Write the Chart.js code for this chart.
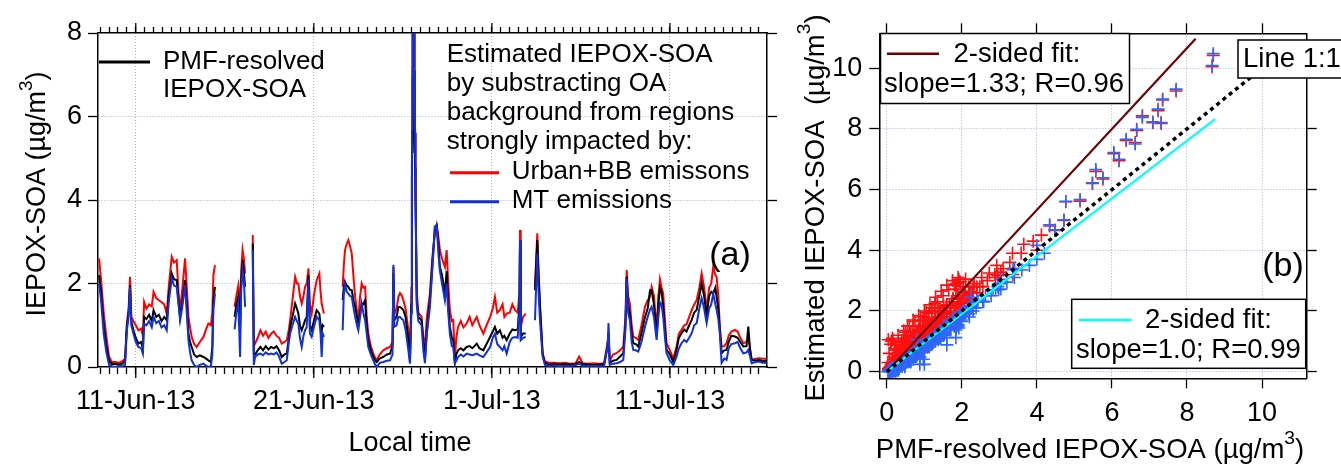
<!DOCTYPE html>
<html>
<head>
<meta charset="utf-8">
<script src="https://cdn.jsdelivr.net/npm/chart.js@4.4.1/dist/chart.umd.min.js"></script>
<style>
  html, body { margin:0; padding:0; background:#fff; overflow:hidden; }
  #c1 { position:absolute; left:0; top:0; }
  #c2 { position:absolute; left:790px; top:0; }
</style>
</head>
<body>
<canvas id="c1" width="790" height="467"></canvas>
<canvas id="c2" width="551" height="467"></canvas>
<script>
const FONT = "'Liberation Sans', Arial, sans-serif";
const GRID = 'rgb(170,170,250)';

// ---- time series (days since 1-Jun-2013 00:00; null = gap) ----
const days = [
  7.94, 8.05, 8.2, 8.35, 8.5, 8.65, 8.85, 9.05, 9.25, 9.4, 9.5, 9.6, 9.68, 9.75, 9.87, 10.0, 10.15, 10.3, 10.4, 10.47, 10.6, 10.75, 10.9, 11.0, 11.15, 11.3, 11.45, 11.6, 11.74, 11.85, 12.02, 12.15, 12.3, 12.4, 12.49, 12.6, 12.77, 12.88, 12.96, 13.05, 13.14, 13.28, 13.42, 13.6, 13.8, 13.95, 14.08, 14.22, 14.3, 14.36, 14.45,
  15.0,
  15.55, 15.65, 15.76, 15.86, 15.92, 16.0, 16.07, 16.14,
  16.35,
  16.57, 16.63, 16.7, 16.85, 17.0, 17.15, 17.3, 17.45, 17.6, 17.75, 17.9, 18.05, 18.2, 18.35, 18.48, 18.6, 18.67, 18.8, 18.95, 19.05, 19.13, 19.22, 19.32, 19.42, 19.51, 19.6, 19.7, 19.78, 19.88, 20.0, 20.16, 20.31, 20.38, 20.44, 20.5, 20.57,
  21.1,
  21.62, 21.68, 21.75, 21.85, 21.94, 22.03, 22.13, 22.22, 22.32, 22.42, 22.5, 22.6, 22.69, 22.78, 22.88, 22.97, 23.06, 23.2, 23.34, 23.45, 23.53, 23.7, 23.9, 24.1, 24.28, 24.42, 24.47, 24.52, 24.65, 24.75, 24.84, 24.95, 25.03, 25.15, 25.31, 25.4, 25.48,
  25.51, 25.52, 25.53, 25.54, 25.55, 25.56, 25.57, 25.58, 25.59, 25.6, 25.61, 25.62, 25.63, 25.64, 25.65, 25.66, 25.67, 25.68, 25.69, 25.7, 25.71, 25.73,
  25.78, 25.87, 26.05, 26.15, 26.24, 26.35, 26.52, 26.65, 26.8, 26.9, 27.0, 27.08, 27.2, 27.36, 27.46, 27.55, 27.64, 27.75, 27.83, 27.92, 28.0, 28.1, 28.25, 28.4, 28.58, 28.75, 28.9, 29.02, 29.15, 29.3, 29.52, 29.7, 29.9, 30.05, 30.17, 30.3, 30.45, 30.6, 30.7, 30.83, 31.0, 31.15, 31.3, 31.45, 31.55, 31.58, 31.62, 31.75, 31.9,
  32.15,
  32.42, 32.55, 32.62, 32.7, 32.85, 32.98, 33.2, 33.5, 33.8, 34.1, 34.4, 34.7, 34.9, 35.1, 35.4, 35.7, 36.0, 36.3, 36.5, 36.55, 36.62, 36.8, 37.0, 37.2, 37.38, 37.5, 37.57, 37.65, 37.75, 37.85, 37.94, 38.08, 38.22, 38.4, 38.6, 38.75, 38.88, 38.97, 39.1, 39.25, 39.35, 39.44, 39.53, 39.62, 39.72, 39.81, 40.0, 40.19, 40.37, 40.5, 40.65, 40.8, 40.93, 41.08, 41.22, 41.36, 41.5, 41.65, 41.78, 41.92, 42.06, 42.2, 42.32, 42.43, 42.55, 42.62, 42.72, 42.8, 42.9, 43.05, 43.18, 43.3, 43.45, 43.65, 43.8, 43.95, 44.12, 44.3, 44.4, 44.5, 44.59, 44.8, 45.0, 45.2, 45.42
];
// PMF-resolved IEPOX-SOA
const pmf = [
  2.2, 1.8, 1.0, 0.5, 0.15, 0.07, 0.08, 0.06, 0.08, 0.15, 0.96, 1.3, 1.96, 1.1, 0.88, 0.7, 0.56, 0.6, 0.45, 1.2, 1.15, 1.25, 1.1, 1.36, 1.2, 1.25, 1.1, 1.2, 1.12, 1.7, 2.24, 2.1, 2.08, 1.6, 1.2, 1.5, 2.08, 1.4, 0.8, 0.6, 0.48, 0.3, 0.24, 0.28, 0.24, 0.2, 0.16, 0.12, 0.5, 1.6, 1.92,
  null,
  1.2, 1.5, 1.7, 1.0, 2.0, 2.56, 2.3, 1.92,
  null,
  2.96, 0.3, 0.3, 0.4, 0.48, 0.4, 0.5, 0.42, 0.48, 0.45, 0.5, 0.4, 0.24, 0.3, 0.32, 0.7, 0.96, 1.2, 1.52, 1.4, 1.28, 1.0, 0.88, 1.0, 1.12, 1.2, 2.2, 1.0, 0.88, 1.1, 1.36, 1.28, 1.0, 0.88, 1.0, 0.96,
  null,
  1.6, 1.9, 2.04, 1.95, 1.92, 1.85, 1.84, 1.6, 1.44, 1.2, 1.04, 1.3, 1.52, 1.5, 1.6, 1.0, 0.64, 0.4, 0.24, 0.15, 0.12, 0.2, 0.24, 0.3, 0.32, 0.5, 2.24, 1.12, 1.2, 1.44, 1.44, 1.4, 1.36, 1.2, 0.64, 0.15, 1.5,
  4.34, 5.15, 5.57, 6.05, 6.38, 6.81, 7.23, 7.71, 8.67, 8.7, 7.35, 7.31, 7.09, 6.66, 6.62, 6.19, 5.76, 5.48, 4.77, 4.72, 4.48, 4.0,
  1.6, 1.2, 1.12, 0.6, 0.2, 0.9, 1.6, 2.4, 3.36, 3.4, 2.9, 2.4, 2.2, 1.76, 2.3, 1.5, 0.96, 0.7, 0.64, 0.1, 0.3, 0.4, 0.45, 0.4, 0.48, 0.5, 0.45, 0.5, 0.56, 0.45, 0.4, 0.55, 0.72, 0.85, 0.96, 0.8, 0.88, 0.7, 0.75, 0.64, 0.8, 0.9, 0.88, 0.9, 1.5, 3.04, 0.72, 0.8, 0.8,
  null,
  1.84, 3.04, 2.2, 1.44, 0.3, 0.09, 0.06, 0.07, 0.06, 0.07, 0.06, 0.07, 0.12, 0.07, 0.06, 0.05, 0.06, 0.06, 0.5, 0.8, 0.1, 0.15, 0.17, 0.25, 0.33, 1.0, 2.16, 1.5, 1.28, 0.8, 0.57, 0.55, 0.49, 0.8, 1.2, 1.4, 1.84, 1.84, 1.5, 0.73, 1.5, 1.9, 1.8, 1.44, 0.9, 0.41, 0.3, 0.12, 0.41, 0.7, 0.81, 0.9, 0.85, 1.0, 1.13, 1.3, 1.37, 1.7, 2.0, 1.7, 1.2, 1.7, 1.8, 1.76, 1.9, 1.68, 1.36, 0.9, 0.33, 0.4, 0.41, 0.6, 0.75, 0.73, 0.7, 0.6, 0.49, 0.5, 0.97, 0.4, 0.17, 0.15, 0.17, 0.14, 0.15
];
// Estimated IEPOX-SOA, Urban+BB background
const urban = [
  2.6, 2.1, 1.3, 0.72, 0.25, 0.12, 0.12, 0.1, 0.14, 0.2, 1.04, 1.4, 2.16, 1.2, 1.1, 1.0, 0.88, 0.92, 0.75, 1.56, 1.4, 1.5, 1.45, 1.8, 1.65, 1.6, 1.55, 1.5, 1.28, 1.9, 2.64, 2.5, 2.56, 1.8, 1.36, 1.8, 2.6, 1.8, 1.2, 0.95, 0.72, 0.55, 0.48, 0.6, 0.72, 0.9, 1.04, 1.0, 1.3, 2.2, 2.44,
  null,
  1.44, 1.7, 1.95, 1.4, 2.3, 2.8, 2.6, 2.24,
  null,
  3.16, 0.5, 0.56, 0.7, 0.88, 0.75, 0.85, 0.7, 0.8, 0.85, 0.75, 0.7, 0.56, 0.6, 0.64, 0.9, 1.12, 1.6, 2.16, 2.0, 2.0, 1.7, 1.52, 1.7, 1.92, 2.0, 2.36, 1.5, 1.28, 1.7, 2.08, 2.24, 1.8, 1.52, 1.4, 1.28,
  null,
  1.92, 2.4, 2.8, 2.95, 3.04, 2.9, 2.72, 2.2, 1.68, 1.35, 1.12, 1.7, 2.0, 1.9, 1.92, 1.2, 0.8, 0.5, 0.32, 0.22, 0.16, 0.3, 0.4, 0.45, 0.48, 0.6, 2.4, 1.28, 1.4, 1.68, 1.77, 1.7, 1.6, 1.4, 0.88, 0.2, 1.9,
  4.8, 5.62, 6.6, 7.18, 7.62, 8.43, 8.6, 9.25, 10.05, 10.42, 8.95, 8.18, 8.2, 7.95, 7.55, 6.95, 6.35, 6.2, 5.6, 4.98, 4.65, 4.0,
  1.8, 1.3, 1.2, 0.7, 0.48, 1.2, 1.76, 2.6, 3.2, 3.4, 3.1, 2.8, 2.6, 2.4, 2.8, 2.0, 1.36, 1.1, 1.12, 0.17, 0.7, 0.96, 1.1, 0.95, 1.04, 1.2, 1.0, 1.1, 1.2, 1.0, 0.8, 1.0, 1.2, 1.4, 1.68, 1.3, 1.36, 1.5, 1.2, 1.28, 1.3, 1.5, 1.36, 1.3, 1.8, 3.28, 0.96, 1.2, 1.28,
  null,
  1.92, 3.2, 2.3, 1.52, 0.33, 0.13, 0.1, 0.1, 0.09, 0.1, 0.08, 0.09, 0.25, 0.09, 0.08, 0.09, 0.08, 0.09, 0.6, 0.73, 0.15, 0.3, 0.33, 0.4, 0.49, 1.2, 2.32, 1.7, 1.52, 1.0, 0.73, 0.7, 0.65, 1.0, 1.45, 1.6, 1.68, 1.92, 1.7, 0.89, 1.7, 2.1, 1.9, 1.76, 1.1, 0.57, 0.4, 0.2, 0.49, 0.8, 0.89, 1.0, 1.02, 1.2, 1.36, 1.5, 1.6, 1.9, 2.24, 1.9, 1.37, 1.9, 2.0, 2.4, 2.2, 2.16, 1.68, 0.97, 0.49, 0.5, 0.57, 0.75, 0.85, 0.89, 0.85, 0.7, 0.57, 0.6, 0.65, 0.45, 0.17, 0.2, 0.21, 0.2, 0.2
];
// Estimated IEPOX-SOA, MT background
const mt = [
  2.0, 1.6, 0.8, 0.35, 0.05, 0.02, 0.0, 0.03, 0.02, 0.05, 0.88, 1.2, 1.92, 1.0, 0.8, 0.6, 0.48, 0.45, 0.32, 1.04, 1.0, 1.1, 0.95, 1.2, 1.05, 1.1, 0.95, 1.0, 0.88, 1.55, 2.12, 1.95, 1.92, 1.5, 1.12, 1.4, 1.96, 1.2, 0.64, 0.35, 0.16, 0.05, 0.0, 0.05, 0.08, 0.03, 0.0, 0.02, 0.3, 1.4, 1.76,
  null,
  0.9, 1.3, 1.55, 0.24, 1.84, 2.32, 2.1, 1.44,
  null,
  2.8, 0.05, 0.24, 0.3, 0.32, 0.28, 0.35, 0.3, 0.32, 0.3, 0.35, 0.25, 0.08, 0.12, 0.16, 0.6, 0.8, 1.0, 1.2, 1.1, 1.04, 0.7, 0.48, 0.75, 0.88, 0.95, 2.1, 0.8, 0.72, 0.95, 1.2, 1.12, 0.8, 0.24, 0.8, 0.72,
  null,
  0.88, 1.7, 2.0, 1.8, 1.76, 1.7, 1.68, 1.45, 1.2, 1.0, 0.88, 1.2, 1.52, 1.3, 1.12, 0.8, 0.48, 0.3, 0.16, 0.05, 0.0, 0.1, 0.12, 0.15, 0.16, 0.3, 2.45, 0.96, 1.0, 1.2, 1.2, 1.15, 1.12, 0.9, 0.4, 0.08, 1.3,
  4.84, 5.67, 6.66, 7.22, 7.66, 8.38, 8.65, 9.31, 10.09, 10.48, 8.98, 8.21, 8.23, 7.99, 7.5, 7.0, 6.39, 6.22, 5.61, 5.0, 4.67, 4.16,
  1.5, 1.1, 1.0, 0.4, 0.09, 0.8, 1.44, 2.3, 3.36, 3.4, 2.7, 2.3, 2.0, 1.6, 2.0, 1.3, 0.8, 0.5, 0.48, 0.09, 0.15, 0.24, 0.3, 0.25, 0.32, 0.3, 0.28, 0.3, 0.32, 0.28, 0.24, 0.35, 0.48, 0.7, 0.8, 0.55, 0.48, 0.4, 0.5, 0.32, 0.6, 0.7, 0.72, 0.7, 1.4, 3.04, 0.64, 0.7, 0.72,
  null,
  1.12, 2.72, 1.8, 1.12, 0.25, 0.05, 0.03, 0.04, 0.02, 0.03, 0.03, 0.04, 0.08, 0.03, 0.03, 0.02, 0.03, 0.03, 0.5, 1.05, 0.05, 0.08, 0.09, 0.12, 0.17, 0.9, 2.12, 1.3, 1.12, 0.6, 0.41, 0.4, 0.37, 0.6, 0.97, 1.2, 1.37, 1.44, 1.2, 0.65, 1.2, 1.55, 1.5, 1.2, 0.7, 0.33, 0.15, 0.05, 0.25, 0.45, 0.57, 0.65, 0.6, 0.7, 0.81, 1.0, 1.05, 1.4, 1.65, 1.4, 1.05, 1.4, 1.5, 1.76, 1.5, 1.37, 1.13, 0.81, 0.1, 0.2, 0.17, 0.45, 0.55, 0.57, 0.6, 0.45, 0.33, 0.35, 0.41, 0.25, 0.09, 0.12, 0.13, 0.1, 0.1
];

// ---- extra scatter points (b) ----
const cloudRedX = [0.03,0.06,0.1,0.04, 0.18,0.22,0.15, 0.33,0.38,0.3, 0.48,0.52,0.45,0.55, 0.62,0.68,0.6,0.7, 0.78,0.83,0.75,0.85, 0.93,0.98,0.9,1.0, 1.08,1.13,1.05,1.15, 1.23,1.28,1.2,1.3, 1.38,1.43,1.35,1.45, 1.53,1.58,1.5,1.6, 1.68,1.73,1.65,1.75, 1.83,1.88,1.8,1.9, 1.98,2.03,1.95, 2.13,2.18,2.1, 2.28,2.33, 2.48,2.53, 2.68,2.73, 2.88,2.93, 3.1, 3.28,3.35, 3.58,3.65, 3.9, 4.12];
const cloudRedY = [0.3,0.6,0.9,1.05, 0.4,0.75,1.1, 0.5,0.85,1.2, 0.65,1.0,1.35,1.5, 0.8,1.15,1.5,1.7, 0.95,1.3,1.65,1.85, 1.1,1.45,1.8,2.0, 1.25,1.6,1.95,2.2, 1.4,1.75,2.1,2.45, 1.6,1.95,2.3,2.65, 1.75,2.1,2.5,2.85, 1.95,2.3,2.7,3.0, 2.1,2.5,2.85,3.1, 2.3,2.65,2.95, 2.45,2.8,3.05, 2.6,2.9, 2.8,3.1, 3.0,3.25, 3.2,3.5, 3.4, 3.6,3.9, 3.9,4.2, 4.3, 4.5];
const cloudBlueX = [0.03,0.08, 0.18,0.23, 0.33,0.38, 0.48,0.53, 0.63,0.68, 0.78,0.83, 0.93,0.98, 1.08,1.13, 1.23,1.28, 1.38,1.43, 1.53,1.58, 1.68,1.73, 1.83,1.88, 1.98,2.03, 2.18,2.23, 2.38,2.43, 2.58,2.63, 2.78,2.83, 2.98,3.03, 3.2, 3.4, 3.6, 3.8, 4.0, 4.2];
const cloudBlueY = [0.0,0.05, 0.05,0.15, 0.1,0.3, 0.2,0.45, 0.35,0.6, 0.5,0.75, 0.65,0.9, 0.8,1.05, 0.95,1.2, 1.1,1.35, 1.25,1.5, 1.4,1.65, 1.55,1.8, 1.7,1.95, 1.9,2.15, 2.1,2.35, 2.3,2.5, 2.5,2.7, 2.7,2.9, 2.95, 3.1, 3.35, 3.5, 3.7, 3.9];

// ---- tick labels ----
const xTickValues = [10, 20, 30, 40];
const xTickLabels = ['11-Jun-13', '21-Jun-13', '1-Jul-13', '11-Jul-13'];

// ---- fit lines for scatter panel (x, y endpoints) ----
const urbanFitX = [0, 8.23], urbanFitY = [0, 10.97];
const mtFitX = [0, 8.75], mtFitY = [0, 8.32];
const oneToOneX = [0, 10.4], oneToOneY = [0, 10.4];

// ---- helpers ----
const pts = (xs, ys) => xs.map((x, i) => ({ x: x, y: ys[i] }));
const pairs = (xs, ys) => xs.map((x, i) => ({ x: x, y: ys[i] })).filter(p => p.x != null && p.y != null);
const isMult = (v, s) => Math.abs(v / s - Math.round(v / s)) < 1e-6;
const TRANSP = 'rgba(0,0,0,0)';

function txt(ctx, s, x, y, size, align) {
  ctx.font = size + 'px ' + FONT;
  ctx.textAlign = align || 'left';
  ctx.textBaseline = 'middle';
  ctx.fillStyle = '#000';
  ctx.fillText(s, x, y);
}
function seg(ctx, x1, y1, x2, y2, color, w) {
  ctx.beginPath(); ctx.setLineDash([]);
  ctx.strokeStyle = color; ctx.lineWidth = w;
  ctx.moveTo(x1, y1); ctx.lineTo(x2, y2); ctx.stroke();
}
function rich(ctx, parts, x, y, size) {
  const sup = size * 0.7;
  let w = 0;
  parts.forEach(p => { ctx.font = (p[1] ? sup : size) + 'px ' + FONT; w += ctx.measureText(p[0]).width; });
  let cx = x - w / 2;
  ctx.textAlign = 'left'; ctx.textBaseline = 'middle'; ctx.fillStyle = '#000';
  parts.forEach(p => {
    ctx.font = (p[1] ? sup : size) + 'px ' + FONT;
    ctx.fillText(p[0], cx, p[1] ? y - size * 0.42 : y);
    cx += ctx.measureText(p[0]).width;
  });
}
function box(ctx, x, y, w, h) {
  ctx.setLineDash([]);
  ctx.fillStyle = '#fff'; ctx.fillRect(x, y, w, h);
  ctx.strokeStyle = '#000'; ctx.lineWidth = 1.5; ctx.strokeRect(x, y, w, h);
}

// ================= LEFT PANEL =================
const leftDeco = {
  id: 'leftDeco',
  afterDraw(chart) {
    const { ctx, chartArea: a, scales } = chart;
    ctx.save();
    xTickValues.forEach(v => {
      const px = scales.x.getPixelForValue(v);
      seg(ctx, px, a.bottom, px, a.bottom + 11, '#000', 1.3);
      seg(ctx, px, a.top, px, a.top - 10, '#000', 1.3);
    });
    seg(ctx, 99, 62, 150, 62, '#000', 3);
    txt(ctx, 'PMF-resolved', 163, 62, 26);
    txt(ctx, 'IEPOX-SOA', 163, 90, 26);
    txt(ctx, 'Estimated IEPOX-SOA', 446.7, 55, 26);
    txt(ctx, 'by substracting OA', 446.7, 84, 26);
    txt(ctx, 'background from regions', 446.7, 113, 26);
    txt(ctx, 'strongly impacted by:', 446.7, 142, 26);
    seg(ctx, 450, 172.7, 499, 172.7, '#ff0000', 3);
    txt(ctx, 'Urban+BB emissons', 511.7, 172, 26);
    seg(ctx, 450, 201.7, 499, 201.7, '#1030d8', 3);
    txt(ctx, 'MT emissions', 511.7, 201, 26);
    txt(ctx, '(a)', 730, 256, 34, 'center');
    txt(ctx, 'Local time', 410, 444, 27, 'center');
    ctx.save();
    ctx.translate(38, 194); ctx.rotate(-Math.PI / 2);
    rich(ctx, [['IEPOX-SOA (\u00B5g/m', false], ['3', true], [')', false]], 0, 0, 27);
    ctx.restore();
    ctx.restore();
  }
};

const lineDs = (label, ys, color) => ({
  label: label, data: pts(days, ys), borderColor: color, borderWidth: 2,
  pointRadius: 0, tension: 0, spanGaps: false, fill: false
});

new Chart(document.getElementById('c1'), {
  type: 'line',
  data: { datasets: [
    lineDs('MT emissions', mt, '#1030d8'),
    lineDs('PMF-resolved IEPOX-SOA', pmf, '#000000'),
    lineDs('Urban+BB emissons', urban, '#ff0000')
  ]},
  options: {
    responsive: false, animation: false,
    layout: { padding: 0 },
    plugins: { legend: { display: false }, tooltip: { enabled: false } },
    scales: {
      x: {
        type: 'linear', position: 'bottom', min: 7.88, max: 45.45,
        afterFit: s => { s.height = 100; },
        ticks: {
          stepSize: 0.5, includeBounds: false, autoSkip: false, maxRotation: 0, minRotation: 0,
          maxTicksLimit: 1000, padding: 11, color: '#000', font: { family: FONT, size: 27 },
          callback: v => { const i = xTickValues.findIndex(t => Math.abs(t - v) < 1e-6); return i >= 0 ? xTickLabels[i] : ''; }
        },
        grid: {
          color: c => (c.tick && isMult(c.tick.value, 10)) ? GRID : TRANSP,
          lineWidth: 1, tickColor: '#000', tickLength: 7, tickWidth: 1.3
        },
        border: { display: true, color: '#000', width: 1.5, dash: [1, 2] }
      },
      xT: {
        type: 'linear', position: 'top', min: 7.88, max: 45.45,
        afterFit: s => { s.height = 33; },
        ticks: { display: false, stepSize: 0.5, includeBounds: false, autoSkip: false, maxTicksLimit: 1000 },
        grid: { drawOnChartArea: false, tickColor: '#000', tickLength: 6, tickWidth: 1.3 },
        border: { display: true, color: '#000', width: 1.5 }
      },
      y: {
        type: 'linear', position: 'left', min: 0, max: 8,
        afterFit: s => { s.width = 98; },
        ticks: { stepSize: 2, padding: 6, color: '#000', font: { family: FONT, size: 27 } },
        grid: {
          color: c => (c.tick && c.tick.value > 0 && c.tick.value < 8) ? GRID : TRANSP,
          lineWidth: 1, tickColor: '#000', tickLength: 10, tickWidth: 1.3
        },
        border: { display: true, color: '#000', width: 1.5, dash: [1, 2] }
      },
      yR: {
        type: 'linear', position: 'right', min: 0, max: 8,
        afterFit: s => { s.width = 23; },
        ticks: { display: false, stepSize: 2 },
        grid: { drawOnChartArea: false, tickColor: '#000', tickLength: 10, tickWidth: 1.3 },
        border: { display: true, color: '#000', width: 1.5 }
      }
    }
  },
  plugins: [leftDeco]
});

// ================= RIGHT PANEL =================
const rightDeco = {
  id: 'rightDeco',
  afterDraw(chart) {
    const { ctx } = chart;
    ctx.save();
    box(ctx, 90.5, 33.5, 249, 70);
    seg(ctx, 97, 53.7, 149, 53.7, '#700000', 2.5);
    txt(ctx, '2-sided fit:', 163.5, 54, 27.5);
    txt(ctx, 'slope=1.33; R=0.96', 94, 84, 27.5);
    box(ctx, 448, 40, 130, 38);
    txt(ctx, 'Line 1:1', 453, 59, 27.5);
    box(ctx, 281.7, 299.3, 234, 69);
    seg(ctx, 289, 320, 341.7, 320, '#00ffff', 2.5);
    txt(ctx, '2-sided fit:', 355, 320, 27.5);
    txt(ctx, 'slope=1.0; R=0.99', 286, 350, 27.5);
    txt(ctx, '(b)', 493, 267, 34, 'center');
    rich(ctx, [['PMF-resolved IEPOX-SOA (\u00B5g/m', false], ['3', true], [')', false]], 300, 450, 27.5);
    ctx.save();
    ctx.translate(26, 208); ctx.rotate(-Math.PI / 2);
    rich(ctx, [['Estimated IEPOX-SOA  (\u00B5g/m', false], ['3', true], [')', false]], 0, 0, 27.5);
    ctx.restore();
    ctx.restore();
  }
};

const fitDs = (xs, ys, color, w, dash) => ({
  data: pts(xs, ys), showLine: true, borderColor: color, borderWidth: w,
  borderDash: dash || [], pointRadius: 0, fill: false
});

new Chart(document.getElementById('c2'), {
  type: 'scatter',
  data: { datasets: [
    fitDs(oneToOneX, oneToOneY, '#000000', 3.5, [4, 4]),
    fitDs(mtFitX, mtFitY, '#00ffff', 2.2),
    fitDs(urbanFitX, urbanFitY, '#700000', 2.2),
    { data: pairs(pmf, mt).concat(pts(cloudBlueX, cloudBlueY)), pointStyle: 'cross', pointRadius: 6.5, borderColor: '#2f66ff', borderWidth: 1.6, showLine: false },
    { data: pairs(pmf, urban).concat(pts(cloudRedX, cloudRedY)), pointStyle: 'cross', pointRadius: 6.5, borderColor: '#ff1010', borderWidth: 1.6, showLine: false }
  ]},
  options: {
    responsive: false, animation: false,
    layout: { padding: 0 },
    plugins: { legend: { display: false }, tooltip: { enabled: false } },
    scales: {
      x: {
        type: 'linear', position: 'bottom', min: -0.2, max: 11.19,
        afterFit: s => { s.height = 88.7; },
        ticks: { stepSize: 2, includeBounds: false, autoSkip: false, maxRotation: 0, padding: 9, color: '#000', font: { family: FONT, size: 27 } },
        grid: { color: GRID, lineWidth: 1, tickColor: '#000', tickLength: 10, tickWidth: 1.3 },
        border: { display: true, color: '#000', width: 1.5, dash: [1, 2] }
      },
      xT: {
        type: 'linear', position: 'top', min: -0.2, max: 11.19,
        afterFit: s => { s.height = 33.3; },
        ticks: { display: false, stepSize: 2, includeBounds: false },
        grid: { drawOnChartArea: false, tickColor: '#000', tickLength: 10, tickWidth: 1.3 },
        border: { display: true, color: '#000', width: 1.5 }
      },
      y: {
        type: 'linear', position: 'left', min: -0.22, max: 11.15,
        afterFit: s => { s.width = 89.3; },
        ticks: { stepSize: 2, includeBounds: false, padding: 7, color: '#000', font: { family: FONT, size: 27 } },
        grid: { color: GRID, lineWidth: 1, tickColor: '#000', tickLength: 10, tickWidth: 1.3 },
        border: { display: true, color: '#000', width: 1.5, dash: [1, 2] }
      },
      yR: {
        type: 'linear', position: 'right', min: -0.22, max: 11.15,
        afterFit: s => { s.width = 34.3; },
        ticks: { display: false, stepSize: 2, includeBounds: false },
        grid: { drawOnChartArea: false, tickColor: '#000', tickLength: 10, tickWidth: 1.3 },
        border: { display: true, color: '#000', width: 1.5 }
      }
    }
  },
  plugins: [rightDeco]
});
</script>
</body>
</html>
